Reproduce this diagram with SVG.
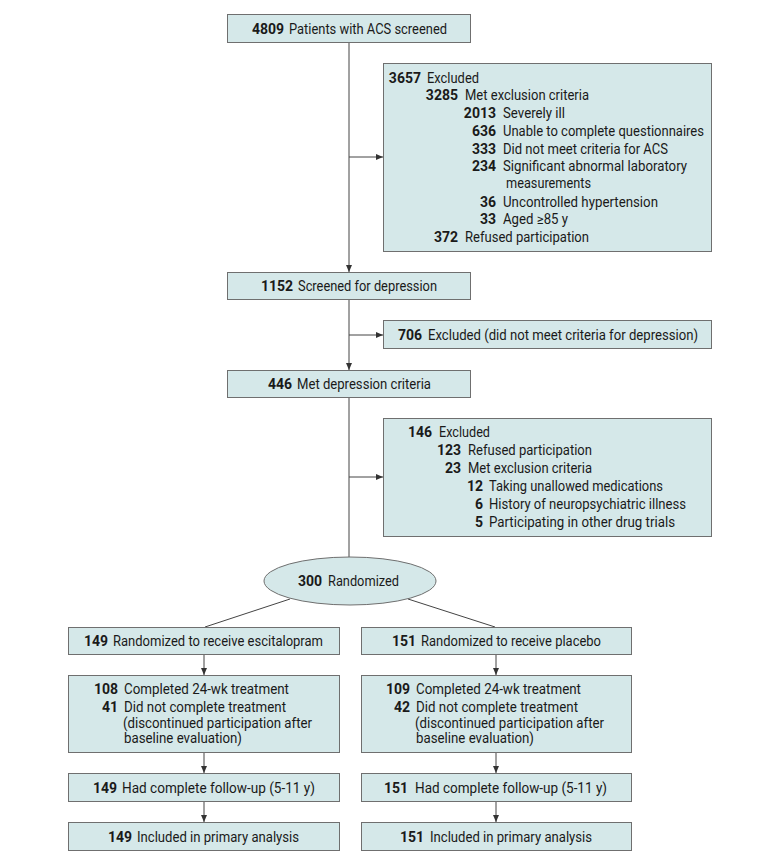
<svg xmlns="http://www.w3.org/2000/svg" width="780" height="863" viewBox="0 0 780 863">
<defs>
<style>
.box{fill:#d5e8e9;stroke:#6f6f6f;stroke-width:1}
.t{font-family:Roboto,"Liberation Sans",sans-serif;font-size:14px;fill:#1a1a1a}
.n{font-weight:bold;text-anchor:end}
.s{font-weight:bold}
.c{fill:none;stroke:#444;stroke-width:1}
</style>
<marker id="ah" markerUnits="userSpaceOnUse" markerWidth="8" markerHeight="8" refX="7" refY="3" orient="auto">
<path d="M0,0 L7,3 L0,6 z" fill="#333"/>
</marker>
</defs>
<rect width="780" height="863" fill="#fff"/>

<g id="connectors" class="c">
<line x1="349" y1="42" x2="349" y2="272" marker-end="url(#ah)"/>
<line x1="349" y1="157" x2="383" y2="157" marker-end="url(#ah)"/>
<line x1="349" y1="299" x2="349" y2="370" marker-end="url(#ah)"/>
<line x1="349" y1="335" x2="383" y2="335" marker-end="url(#ah)"/>
<line x1="349" y1="397" x2="349" y2="557"/>
<line x1="349" y1="477" x2="383" y2="477" marker-end="url(#ah)"/>
<line x1="290" y1="599" x2="205" y2="627"/>
<line x1="408" y1="599" x2="495" y2="627"/>
<line x1="204" y1="654" x2="204" y2="675" marker-end="url(#ah)"/>
<line x1="204" y1="752" x2="204" y2="773" marker-end="url(#ah)"/>
<line x1="204" y1="801" x2="204" y2="822" marker-end="url(#ah)"/>
<line x1="496" y1="654" x2="496" y2="675" marker-end="url(#ah)"/>
<line x1="496" y1="752" x2="496" y2="773" marker-end="url(#ah)"/>
<line x1="496" y1="801" x2="496" y2="822" marker-end="url(#ah)"/>
</g>

<g id="screened">
<rect class="box" x="227.5" y="14.5" width="243" height="28"/>
<text class="t s" x="252" y="33.5">4809</text>
<text class="t" x="289" y="33.5" textLength="158" lengthAdjust="spacingAndGlyphs">Patients with ACS screened</text>
</g>

<g id="excluded1">
<rect class="box" x="383.5" y="63.5" width="328" height="188"/>
<text class="t n" x="421" y="82.5">3657</text>
<text class="t" x="427" y="82.5" textLength="52" lengthAdjust="spacingAndGlyphs">Excluded</text>
<text class="t n" x="458" y="100.3">3285</text>
<text class="t" x="465" y="100.3" textLength="124" lengthAdjust="spacingAndGlyphs">Met exclusion criteria</text>
<text class="t n" x="496" y="118">2013</text>
<text class="t" x="503" y="118" textLength="62" lengthAdjust="spacingAndGlyphs">Severely ill</text>
<text class="t n" x="496" y="135.8">636</text>
<text class="t" x="503" y="135.8" textLength="201" lengthAdjust="spacingAndGlyphs">Unable to complete questionnaires</text>
<text class="t n" x="496" y="153.6">333</text>
<text class="t" x="503" y="153.6" textLength="165" lengthAdjust="spacingAndGlyphs">Did not meet criteria for ACS</text>
<text class="t n" x="496" y="171.4">234</text>
<text class="t" x="503" y="171.4" textLength="184" lengthAdjust="spacingAndGlyphs">Significant abnormal laboratory</text>
<text class="t" x="506" y="188.3" textLength="85" lengthAdjust="spacingAndGlyphs">measurements</text>
<text class="t n" x="496" y="206.5">36</text>
<text class="t" x="503" y="206.5" textLength="155" lengthAdjust="spacingAndGlyphs">Uncontrolled hypertension</text>
<text class="t n" x="496" y="224.3">33</text>
<text class="t" x="503" y="224.3" textLength="65" lengthAdjust="spacingAndGlyphs">Aged ≥85 y</text>
<text class="t n" x="458" y="242.3">372</text>
<text class="t" x="465" y="242.3" textLength="124" lengthAdjust="spacingAndGlyphs">Refused participation</text>
</g>

<g id="depression-screen">
<rect class="box" x="227.5" y="272.5" width="243" height="27"/>
<text class="t s" x="261" y="291">1152</text>
<text class="t" x="298" y="291" textLength="139" lengthAdjust="spacingAndGlyphs">Screened for depression</text>
</g>

<g id="excluded2">
<rect class="box" x="383.5" y="320.5" width="328" height="28"/>
<text class="t s" x="398" y="339.5">706</text>
<text class="t" x="428" y="339.5" textLength="270" lengthAdjust="spacingAndGlyphs">Excluded (did not meet criteria for depression)</text>
</g>

<g id="met-depression">
<rect class="box" x="227.5" y="370.5" width="243" height="27"/>
<text class="t s" x="268" y="389">446</text>
<text class="t" x="297" y="389" textLength="134" lengthAdjust="spacingAndGlyphs">Met depression criteria</text>
</g>

<g id="excluded3">
<rect class="box" x="383.5" y="418.5" width="328" height="118"/>
<text class="t n" x="432" y="437.3">146</text>
<text class="t" x="439" y="437.3" textLength="51" lengthAdjust="spacingAndGlyphs">Excluded</text>
<text class="t n" x="461" y="455.3">123</text>
<text class="t" x="468" y="455.3" textLength="124" lengthAdjust="spacingAndGlyphs">Refused participation</text>
<text class="t n" x="461" y="473.3">23</text>
<text class="t" x="468" y="473.3" textLength="124" lengthAdjust="spacingAndGlyphs">Met exclusion criteria</text>
<text class="t n" x="483" y="491.3">12</text>
<text class="t" x="489" y="491.3" textLength="174" lengthAdjust="spacingAndGlyphs">Taking unallowed medications</text>
<text class="t n" x="483" y="509.3">6</text>
<text class="t" x="489" y="509.3" textLength="197" lengthAdjust="spacingAndGlyphs">History of neuropsychiatric illness</text>
<text class="t n" x="483" y="527.2">5</text>
<text class="t" x="489" y="527.2" textLength="186" lengthAdjust="spacingAndGlyphs">Participating in other drug trials</text>
</g>

<g id="randomized">
<ellipse class="box" cx="350" cy="581" rx="86" ry="24"/>
<text class="t s" x="298" y="586">300</text>
<text class="t" x="328" y="586" textLength="71" lengthAdjust="spacingAndGlyphs">Randomized</text>
</g>

<g id="escitalopram">
<rect class="box" x="68.5" y="627.5" width="271" height="27"/>
<text class="t s" x="84" y="646">149</text>
<text class="t" x="113" y="646" textLength="210" lengthAdjust="spacingAndGlyphs">Randomized to receive escitalopram</text>
</g>

<g id="placebo">
<rect class="box" x="361.5" y="627.5" width="270" height="27"/>
<text class="t s" x="392" y="646">151</text>
<text class="t" x="421" y="646" textLength="180" lengthAdjust="spacingAndGlyphs">Randomized to receive placebo</text>
</g>

<g id="esc-treatment">
<rect class="box" x="68.5" y="675.5" width="271" height="77"/>
<text class="t n" x="118" y="693.7">108</text>
<text class="t" x="124" y="693.7" textLength="165" lengthAdjust="spacingAndGlyphs">Completed 24-wk treatment</text>
<text class="t n" x="118" y="711.5">41</text>
<text class="t" x="124" y="711.5" textLength="162" lengthAdjust="spacingAndGlyphs">Did not complete treatment</text>
<text class="t" x="123" y="727.5" textLength="189" lengthAdjust="spacingAndGlyphs">(discontinued participation after</text>
<text class="t" x="124" y="743.3" textLength="118" lengthAdjust="spacingAndGlyphs">baseline evaluation)</text>
</g>

<g id="plc-treatment">
<rect class="box" x="361.5" y="675.5" width="270" height="77"/>
<text class="t n" x="410" y="693.7">109</text>
<text class="t" x="416" y="693.7" textLength="165" lengthAdjust="spacingAndGlyphs">Completed 24-wk treatment</text>
<text class="t n" x="410" y="711.5">42</text>
<text class="t" x="416" y="711.5" textLength="162" lengthAdjust="spacingAndGlyphs">Did not complete treatment</text>
<text class="t" x="415" y="727.5" textLength="189" lengthAdjust="spacingAndGlyphs">(discontinued participation after</text>
<text class="t" x="416" y="743.3" textLength="118" lengthAdjust="spacingAndGlyphs">baseline evaluation)</text>
</g>

<g id="esc-followup">
<rect class="box" x="68.5" y="773.5" width="271" height="28"/>
<text class="t s" x="93" y="793">149</text>
<text class="t" x="122" y="793" textLength="193" lengthAdjust="spacingAndGlyphs">Had complete follow-up (5-11 y)</text>
</g>

<g id="plc-followup">
<rect class="box" x="361.5" y="773.5" width="270" height="28"/>
<text class="t s" x="384" y="793">151</text>
<text class="t" x="415" y="793" textLength="192" lengthAdjust="spacingAndGlyphs">Had complete follow-up (5-11 y)</text>
</g>

<g id="esc-analysis">
<rect class="box" x="68.5" y="822.5" width="271" height="28"/>
<text class="t s" x="108" y="841.5">149</text>
<text class="t" x="137" y="841.5" textLength="162" lengthAdjust="spacingAndGlyphs">Included in primary analysis</text>
</g>

<g id="plc-analysis">
<rect class="box" x="361.5" y="822.5" width="270" height="28"/>
<text class="t s" x="400" y="841.5">151</text>
<text class="t" x="430" y="841.5" textLength="162" lengthAdjust="spacingAndGlyphs">Included in primary analysis</text>
</g>
</svg>
